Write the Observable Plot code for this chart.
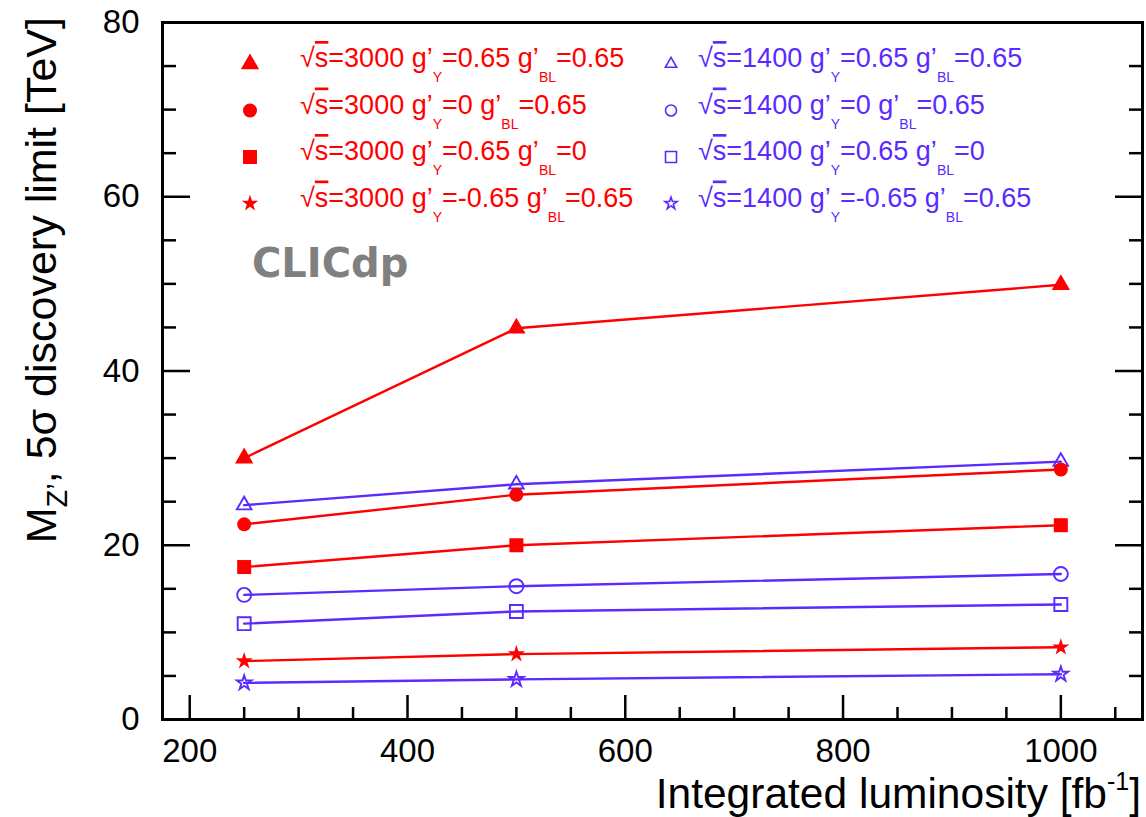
<!DOCTYPE html>
<html>
<head>
<meta charset="utf-8">
<script src="https://cdn.jsdelivr.net/npm/d3@7"></script>
<script src="https://cdn.jsdelivr.net/npm/@observablehq/plot@0.6"></script>
<style>
  body { margin: 0; background: #fff; }
  #chart svg { display: block; background: #fff; }
</style>
</head>
<body>
<div id="chart"></div>
<script>
// ---------------- data ----------------
const lumi = [250, 500, 1000];                    // integrated luminosity [fb^-1]

const s3000_gY065_gBL065  = [30.0, 44.9, 49.9];
const s3000_gY0_gBL065    = [22.4, 25.8, 28.7];
const s3000_gY065_gBL0    = [17.5, 20.0, 22.3];
const s3000_gYm065_gBL065 = [6.7, 7.5, 8.3];
const s1400_gY065_gBL065  = [24.6, 27.0, 29.6];
const s1400_gY0_gBL065    = [14.3, 15.3, 16.7];
const s1400_gY065_gBL0    = [11.0, 12.4, 13.2];
const s1400_gYm065_gBL065 = [4.2, 4.6, 5.2];

const sqrtS   = ["3000", "3000", "3000", "3000", "1400", "1400", "1400", "1400"];
const gYvals  = ["0.65", "0", "0.65", "-0.65", "0.65", "0", "0.65", "-0.65"];
const gBLvals = ["0.65", "0.65", "0", "0.65", "0.65", "0.65", "0", "0.65"];
const seriesValues = [
  s3000_gY065_gBL065, s3000_gY0_gBL065, s3000_gY065_gBL0, s3000_gYm065_gBL065,
  s1400_gY065_gBL065, s1400_gY0_gBL065, s1400_gY065_gBL0, s1400_gYm065_gBL065
];
const symbols = ["triangle", "circle", "square", "star", "triangle", "circle", "square", "star"];

const xTicksMajor = [200, 400, 600, 800, 1000];
const xTicksMinor = [250, 300, 350, 450, 500, 550, 650, 700, 750, 850, 900, 950, 1050];
const yTicksMajor = [0, 20, 40, 60, 80];
const yTicksMinor = [5, 10, 15, 25, 30, 35, 45, 50, 55, 65, 70, 75];

// ---------------- styles ----------------
const RED = "#ff0000";
const BLUE = "#5a2aff";
const FONT = "'Liberation Sans', Arial, Helvetica, sans-serif";
const W = 1146, H = 817;
const mL = 162, mR = 4, mT = 22, mB = 98;

// marker radii (Plot r => symbol area pi*r^2)
const rPlotFilled = {triangle: 6.8, circle: 7, square: 7.9, star: 5.4};
const rPlotOpen   = {triangle: 5.4, circle: 7, square: 7.3, star: 4.6};
const rLegFilled  = {triangle: 6.8, circle: 7, square: 7.9, star: 5.2};
const rLegOpen    = {triangle: 4.2, circle: 5.5, square: 6.2, star: 3.8};

const rows = [];
seriesValues.forEach((vals, i) => {
  const filled = sqrtS[i] === "3000";
  vals.forEach((v, j) => rows.push({
    series: i, x: lumi[j], y: v,
    color: filled ? RED : BLUE, symbol: symbols[i], filled
  }));
});

const dotMarks = [];
for (const filled of [false, true]) {
  for (const sym of ["triangle", "circle", "square", "star"]) {
    const d = rows.filter(r => r.filled === filled && r.symbol === sym);
    dotMarks.push(Plot.dot(d, {
      x: "x", y: "y", symbol: sym,
      r: filled ? rPlotFilled[sym] : rPlotOpen[sym],
      fill: filled ? RED : "none",
      stroke: filled ? "none" : BLUE,
      strokeWidth: filled ? 0 : 1.9
    }));
  }
}

const fmt = d => String(d);

const plot = Plot.plot({
  width: W, height: H,
  marginLeft: mL, marginRight: mR, marginTop: mT, marginBottom: mB,
  style: {fontFamily: FONT, background: "#fff", color: "#000"},
  x: {domain: [175, 1075]},
  y: {domain: [0, 80]},
  color: {type: "identity"},
  marks: [
    Plot.axisX(xTicksMajor, {tickSize: 0, tickPadding: 19, fontSize: 33, label: null, fill: "#000", tickFormat: fmt}),
    Plot.axisX(xTicksMajor, {tickSize: -24, strokeWidth: 2.5, tickFormat: () => "", label: null}),
    Plot.axisX(xTicksMinor, {tickSize: -12, strokeWidth: 2.5, tickFormat: () => "", label: null}),
    Plot.axisY(yTicksMajor, {anchor: "left", tickSize: 0, tickPadding: 23, fontSize: 33, label: null, fill: "#000", tickFormat: fmt}),
    Plot.axisY(yTicksMajor, {anchor: "left", tickSize: -28, strokeWidth: 2.5, tickFormat: () => "", label: null}),
    Plot.axisY(yTicksMinor, {anchor: "left", tickSize: -14, strokeWidth: 2.5, tickFormat: () => "", label: null}),
    Plot.axisY(yTicksMajor, {anchor: "right", tickSize: -28, strokeWidth: 2.5, tickFormat: () => "", label: null}),
    Plot.axisY(yTicksMinor, {anchor: "right", tickSize: -14, strokeWidth: 2.5, tickFormat: () => "", label: null}),
    Plot.line(rows, {x: "x", y: "y", z: "series", stroke: "color", strokeWidth: 2.4}),
    ...dotMarks,
    Plot.frame({stroke: "#000", strokeWidth: 3})
  ]
});

document.getElementById("chart").appendChild(plot);

// ---------------- annotations (titles, legend, CLICdp) ----------------
const svg = d3.select(plot);
const ns = svg.append("g").attr("font-family", FONT).attr("text-anchor", "start");

// y-axis title
const yt = ns.append("text")
  .attr("transform", "translate(56,17) rotate(-90)")
  .attr("text-anchor", "end")
  .attr("font-size", 43)
  .attr("fill", "#000");
yt.append("tspan").text("M");
yt.append("tspan").attr("font-size", 29).attr("dy", 11).text("Z’");
yt.append("tspan").attr("dy", -11).text(", 5σ discovery limit [TeV]");

// x-axis title
const xt = ns.append("text")
  .attr("x", W - 5).attr("y", 808)
  .attr("text-anchor", "end")
  .attr("font-size", 42.5)
  .attr("fill", "#000");
xt.append("tspan").text("Integrated luminosity [fb");
xt.append("tspan").attr("font-size", 25).attr("dy", -18).text("-1");
xt.append("tspan").attr("dy", 18).text("]");

// CLICdp label
ns.append("text")
  .attr("x", 252).attr("y", 277)
  .attr("text-anchor", "start")
  .attr("font-family", "'DejaVu Sans', sans-serif")
  .attr("font-weight", "bold")
  .attr("font-size", 40)
  .attr("fill", "#808080")
  .text("CLICdp");

// legend
const rowBase = [67, 113.5, 160, 206.5];
const cols = [{mx: 250, tx: 300}, {mx: 671, tx: 698}];
seriesValues.forEach((_, i) => {
  const filled = sqrtS[i] === "3000";
  const col = cols[filled ? 0 : 1];
  const base = rowBase[i % 4];
  const sym = symbols[i];
  const color = filled ? RED : BLUE;
  const d3sym = {triangle: d3.symbolTriangle, circle: d3.symbolCircle, square: d3.symbolSquare, star: d3.symbolStar}[sym];
  const r = filled ? rLegFilled[sym] : rLegOpen[sym];
  ns.append("path")
    .attr("transform", `translate(${col.mx},${base - 3})`)
    .attr("d", d3.symbol(d3sym, Math.PI * r * r)())
    .attr("fill", filled ? color : "none")
    .attr("stroke", filled ? "none" : color)
    .attr("stroke-width", filled ? 0 : 1.6);

  const t = ns.append("text")
    .attr("x", col.tx).attr("y", base)
    .attr("text-anchor", "start")
    .attr("font-size", 27)
    .attr("fill", color);
  t.append("tspan").text("√");
  t.append("tspan").attr("text-decoration", "overline").text("s");
  t.append("tspan").text(`=${sqrtS[i]} g’`);
  t.append("tspan").attr("font-size", 14).attr("dy", 15).text("Y");
  t.append("tspan").attr("dy", -15).text(`=${gYvals[i]} g’`);
  t.append("tspan").attr("font-size", 14).attr("dy", 15).text("BL");
  t.append("tspan").attr("dy", -15).text(`=${gBLvals[i]}`);
});
</script>
</body>
</html>
